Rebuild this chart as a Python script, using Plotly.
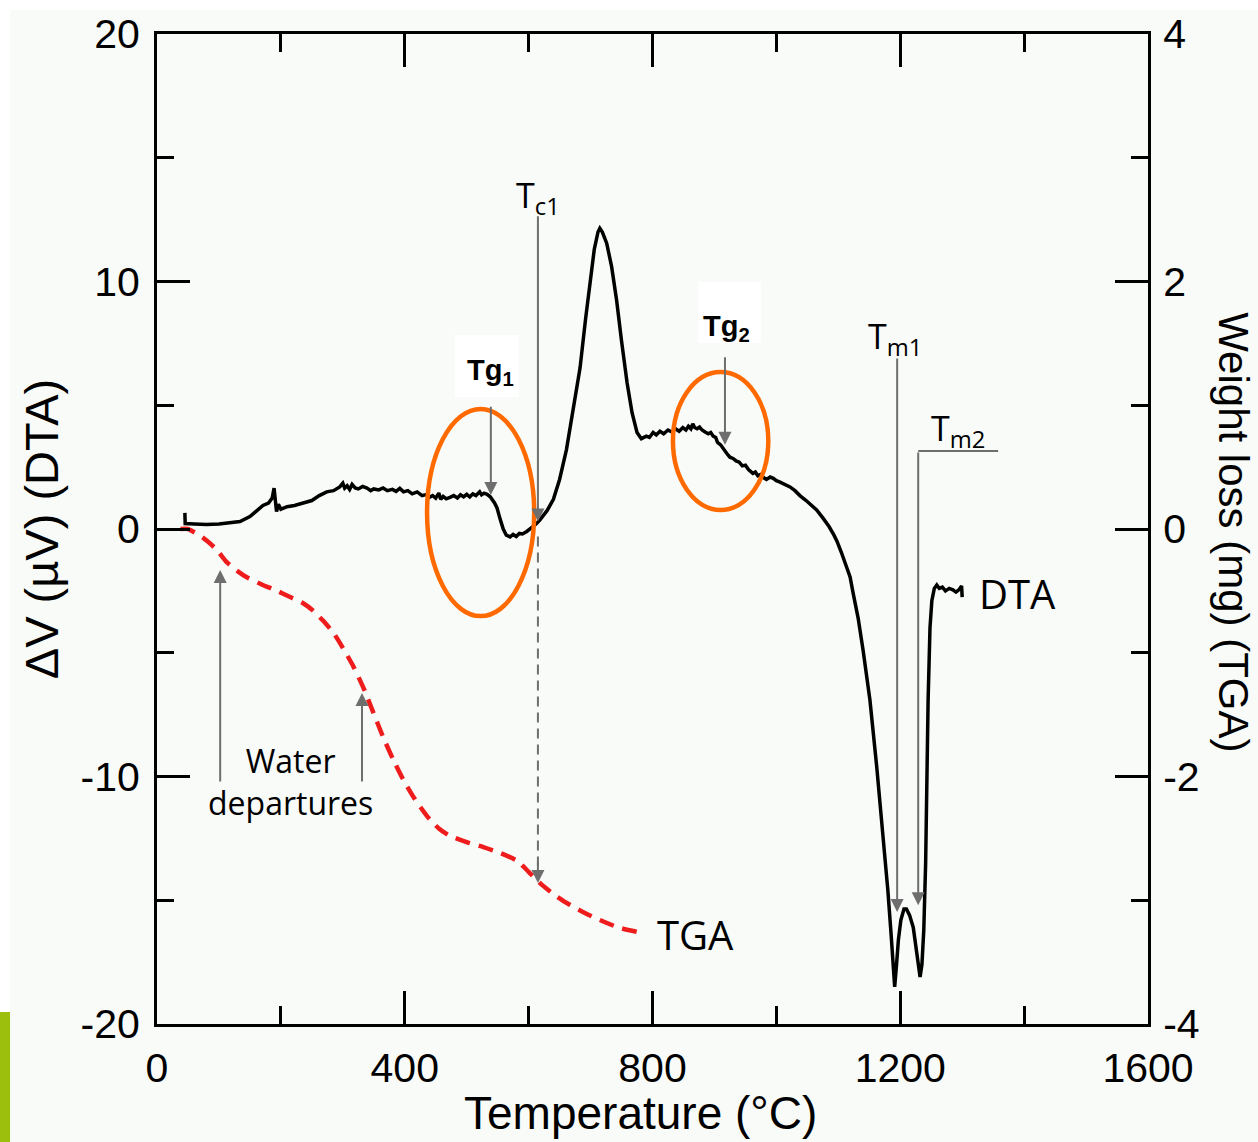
import plotly.graph_objects as go

# ---- DTA signal: temperature (°C) vs ΔV (µV) ----
dta_temp = [45, 45.5, 60, 80, 100, 120, 134, 150, 162, 171, 180, 186, 189, 191, 193, 196, 200, 210,
            222, 236, 250, 262, 274, 285, 295, 300, 303, 307, 311, 315, 320, 325, 332, 339, 345, 350,
            358, 365, 372, 380, 386, 392, 398, 405, 412, 420, 428, 436, 440, 445, 450, 455, 458, 462,
            467, 473, 479, 485, 490, 495, 500, 505, 510, 515, 521, 524, 528, 533, 538, 545, 549, 554,
            559, 564, 570, 575, 580, 585, 590, 597, 605, 612, 618, 630, 640, 650, 661, 672, 683, 692,
            699, 706, 712, 715, 719, 726, 734, 742, 750, 759, 767, 775, 782, 790, 795, 801, 806, 812,
            818, 825, 831, 837, 843, 849, 854, 858, 862, 865, 868, 872, 876, 880, 885, 890, 894, 898,
            902, 905, 910, 915, 920, 925, 930, 935, 940, 945, 950, 955, 962, 966, 970, 974, 978, 984,
            990, 995, 1000, 1005, 1010, 1015, 1022, 1030, 1038, 1048, 1056, 1065, 1075, 1085, 1093,
            1098, 1105, 1112, 1119, 1124, 1132, 1140, 1151, 1162, 1172, 1180, 1185, 1188, 1191, 1194,
            1197, 1201, 1206, 1210, 1215, 1221, 1226, 1230, 1232, 1235, 1238, 1241, 1243, 1245, 1248,
            1251, 1255, 1259, 1263, 1268, 1273, 1279, 1285, 1290, 1295, 1299, 1300]
dta_uv = [0.65, 0.22, 0.2, 0.18, 0.2, 0.24, 0.3, 0.5, 0.75, 0.95, 1.05, 1.25, 1.65, 1.1, 0.7, 1.0, 0.8, 0.9,
          0.95, 1.05, 1.15, 1.35, 1.5, 1.55, 1.7, 1.85, 1.65, 1.75, 1.6, 1.8, 1.66, 1.62, 1.72, 1.65, 1.55,
          1.62, 1.58, 1.66, 1.55, 1.6, 1.52, 1.64, 1.5, 1.55, 1.42, 1.5, 1.35, 1.4, 1.28, 1.35, 1.25,
          1.45, 1.2, 1.32, 1.22, 1.28, 1.35, 1.25, 1.38, 1.3, 1.4, 1.3, 1.42, 1.35, 1.5, 1.38, 1.45,
          1.4, 1.3, 1.05, 0.85, 0.4, 0.0, -0.25, -0.32, -0.22, -0.3, -0.18, -0.2, -0.1, 0.05, 0.2, 0.36,
          0.75, 1.2, 2.0, 3.2, 4.8, 6.5, 8.5, 9.9, 11.3, 12.0, 12.15, 12.0, 11.55, 10.6, 9.25, 7.6, 5.9,
          4.7, 3.9, 3.65, 3.75, 3.7, 3.9, 3.8, 3.95, 3.85, 4.0, 3.92, 4.05, 3.95, 4.1, 4.0, 4.15, 4.05,
          4.25, 4.1, 4.05, 4.12, 4.0, 3.92, 3.85, 3.9, 3.75, 3.7, 3.5, 3.4, 3.2, 3.05, 2.9, 2.85, 2.75,
          2.7, 2.55, 2.58, 2.4, 2.25, 2.3, 2.15, 2.2, 2.1, 2.0, 2.1, 2.05, 1.95, 1.9, 1.85, 1.8, 1.7,
          1.55, 1.35, 1.15, 0.95, 0.77, 0.45, 0.1, -0.25, -0.5, -0.95, -1.45, -1.94, -2.6, -3.6, -4.9,
          -6.9, -9.6, -12.3, -14.6, -16.3, -17.6, -18.5, -17.6, -16.6, -15.8, -15.35, -15.35, -15.6,
          -16.1, -17.0, -17.9, -18.1, -17.6, -16.2, -13.5, -10.0, -6.9, -4.0, -2.9, -2.4, -2.26, -2.4,
          -2.35, -2.5, -2.4, -2.46, -2.55, -2.45, -2.3, -2.75]

# ---- TGA signal: temperature (°C) vs weight loss (mg) ----
tga_temp = [38, 50, 74, 95, 113, 130, 145, 170, 194, 215, 236, 252, 268, 285, 300, 317, 333, 349,
            365, 381, 397, 416, 436, 455, 473, 500, 527, 555, 581, 600, 618, 640, 661, 690, 715, 745, 780]
tga_mg = [0.0, 0.0, -0.07, -0.16, -0.27, -0.34, -0.39, -0.45, -0.5, -0.55, -0.6, -0.66, -0.74, -0.84,
          -0.96, -1.11, -1.28, -1.48, -1.68, -1.86, -2.02, -2.18, -2.32, -2.42, -2.48, -2.53, -2.57,
          -2.62, -2.68, -2.77, -2.86, -2.95, -3.02, -3.1, -3.16, -3.22, -3.26]

# characteristic temperatures (°C)
t_g1, t_c1, t_g2, t_m1, t_m2 = 539, 615, 917, 1195, 1229
water_temps = [102, 331]

x_ticks = [0, 400, 800, 1200, 1600]
y_ticks = [-20, -10, 0, 10, 20]
y_ticklabels = ["-20", "-10", "0", "10", "20"]
y2_ticks = [-4, -2, 0, 2, 4]
y2_ticklabels = ["-4", "-2", "0", "2", "4"]

BG = "#f9fbf8"
GREY = "#6e6e6e"
ORANGE = "#ff6a00"
SANS = "Liberation Sans"
TICK_FONT = dict(family=SANS, size=41, color="black")
NOTE_FONT = "Open Sans"

fig = go.Figure()
fig.add_trace(go.Scatter(x=dta_temp, y=dta_uv, mode="lines", name="DTA",
                         line=dict(color="black", width=3.5), yaxis="y"))
fig.add_trace(go.Scatter(x=tga_temp, y=tga_mg, mode="lines", name="TGA",
                         line=dict(color="#ee1c1c", width=4.5, dash="15px,9px",
                                   shape="spline", smoothing=0.6), yaxis="y2"))

axis_common = dict(showline=True, linecolor="black", linewidth=3, ticks="inside",
                   tickcolor="black", tickwidth=3, ticklen=33, zeroline=False,
                   showgrid=False, tickfont=TICK_FONT)

fig.update_layout(
    width=1258, height=1142,
    margin=dict(l=157, r=110, t=34, b=118),
    paper_bgcolor="white", plot_bgcolor=BG,
    showlegend=False,
    xaxis=dict(range=[0, 1600], tickvals=x_ticks, mirror="ticks",
               minor=dict(dtick=200, ticks="inside", ticklen=18, tickwidth=3, tickcolor="black"),
               ticklabelstandoff=6,
               **axis_common),
    yaxis=dict(range=[-20, 20], tickvals=y_ticks, ticktext=y_ticklabels,
               minor=dict(dtick=5, ticks="inside", ticklen=17, tickwidth=3, tickcolor="black"),
               title=dict(text="ΔV (µV) (DTA)", font=dict(family=SANS, size=47, color="black"),
                          standoff=8),
               ticklabelstandoff=6,
               **axis_common),
    yaxis2=dict(range=[-4, 4], tickvals=y2_ticks, ticktext=y2_ticklabels, overlaying="y",
                side="right",
                minor=dict(dtick=1, ticks="inside", ticklen=17, tickwidth=3, tickcolor="black"),
                ticklabelstandoff=4,
                **axis_common),
)

shapes = [
    # page backdrop with the thin white rim and green edge strip
    dict(type="rect", xref="paper", yref="paper", x0=-0.1483, x1=1.12, y0=-0.125, y1=1.0242,
         fillcolor=BG, line=dict(width=0), layer="below"),
    dict(type="rect", xref="paper", yref="paper", x0=-0.17, x1=-0.1483, y0=-0.125, y1=0.0121,
         fillcolor="#9bbf0c", line=dict(width=0), layer="below"),
    # circled glass-transition regions
    dict(type="circle", xref="x", yref="y", x0=436, x1=609, y0=-3.52, y1=4.85,
         line=dict(color=ORANGE, width=4.5)),
    dict(type="circle", xref="x", yref="y", x0=833, x1=987, y0=0.77, y1=6.34,
         line=dict(color=ORANGE, width=4.5)),
    # white label boxes for Tg1 / Tg2
    dict(type="rect", xref="x", yref="y", x0=481, x1=584, y0=5.33, y1=7.84,
         fillcolor="white", line=dict(width=0)),
    dict(type="rect", xref="x", yref="y", x0=874, x1=975, y0=7.52, y1=9.98,
         fillcolor="white", line=dict(width=0)),
    # Tc1 projection down to the TGA curve
    dict(type="line", xref="x", yref="y", x0=t_c1, x1=t_c1, y0=-0.3, y1=-13.6,
         line=dict(color=GREY, width=2, dash="10px,6px")),
    # Tm2 leader (horizontal part)
    dict(type="line", xref="x", yref="y", x0=1358, x1=t_m2, y0=3.15, y1=3.15,
         line=dict(color=GREY, width=2)),
]
fig.update_layout(shapes=shapes)


def arrow(x, y_tail, y_head):
    fig.add_annotation(x=x, y=y_head, ax=x, ay=y_tail, xref="x", yref="y", axref="x", ayref="y",
                       text="", showarrow=True, arrowhead=2, arrowsize=1.3, arrowwidth=2,
                       arrowcolor=GREY)


arrow(t_c1, 12.7, 0.3)
arrow(t_c1, -13.4, -14.3)
arrow(t_g1, 5.0, 1.37)
arrow(t_g2, 7.0, 3.4)
arrow(t_m1, 6.95, -15.47)
arrow(t_m2, 3.15, -15.2)
arrow(water_temps[0], -10.26, -1.66)
arrow(water_temps[1], -10.26, -6.63)


def label(x, y, text, size, family=NOTE_FONT):
    fig.add_annotation(x=x, y=y, xref="x", yref="y", text=text, showarrow=False,
                       font=dict(family=family, size=size, color="black"))


label(615, 13.4, "T<sub>c1</sub>", 34)
label(1191.5, 7.7, "T<sub>m1</sub>", 34)
label(1293, 4.0, "T<sub>m2</sub>", 34)
label(538, 6.34, "<b>Tg<sub>1</sub></b>", 29, SANS)
label(920, 8.12, "<b>Tg<sub>2</sub></b>", 29, SANS)
label(215, -10.2, "Water<br>departures", 32)
label(1390, -2.59, "DTA", 40)
label(869, -16.4, "TGA", 40)

# bottom axis title
fig.add_annotation(x=0.4874, y=-0.0899, xref="paper", yref="paper", xanchor="center",
                   yanchor="middle", text="Temperature (°C)", showarrow=False,
                   font=dict(family=SANS, size=46, color="black"))

# right-hand axis title, reading top to bottom
fig.add_annotation(x=1.0855, y=0.497, xref="paper", yref="paper", xanchor="center",
                   yanchor="middle", text="Weight loss (mg) (TGA)",
                   textangle=90, showarrow=False,
                   font=dict(family=SANS, size=42, color="black"))

fig.write_html("out.html")
